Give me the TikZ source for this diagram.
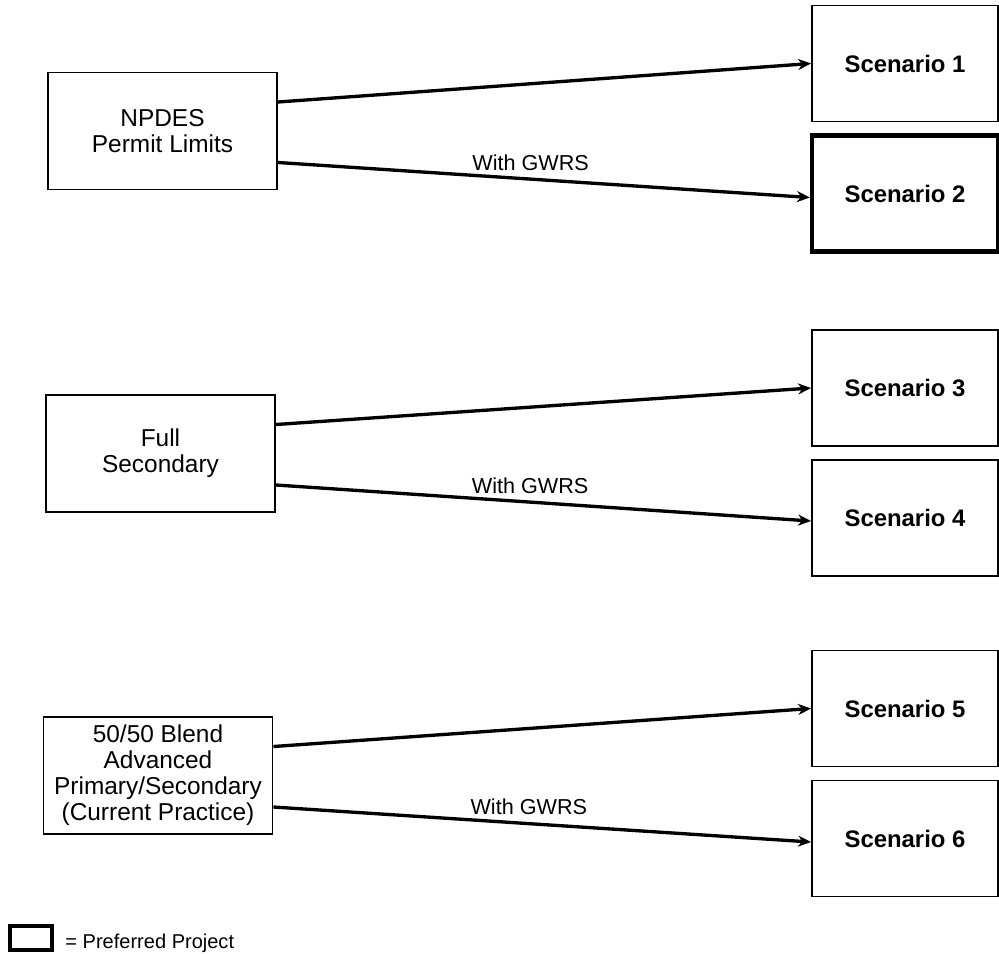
\documentclass[tikz,border=0pt]{standalone}
\usepackage{fontspec}
\setmainfont{Liberation Sans}
\usetikzlibrary{arrows.meta}

\begin{document}
\begin{tikzpicture}[x=0.02cm,y=-0.02cm,>={Stealth[length=2.6mm,width=2.2mm]},
  srcbox/.style={draw,line width=1.1pt,minimum width=4.58cm,minimum height=2.34cm,
    inner sep=0pt,align=center,font=\fontsize{13.9}{14.8}\selectfont},
  scenbox/.style={draw,line width=1.1pt,minimum width=3.72cm,minimum height=2.32cm,
    inner sep=0pt,font=\fontsize{13.6}{15}\selectfont\bfseries},
  preferred/.style={line width=2.4pt},
  flow/.style={->,line width=1.9pt},
  gwrs/.style={above=1.4mm,inner sep=0pt,font=\fontsize{12.3}{14}\selectfont}]
\useasboundingbox (0,0) rectangle (999,953);
% treatment levels
\node[srcbox] (npdes) at (162.5,131) {NPDES\\Permit Limits};
\node[srcbox] (fullsec) at (160.5,453.5) {Full\\Secondary};
\node[srcbox] (blend) at (158,775.5) {50/50 Blend\\Advanced\\Primary/Secondary\\(Current Practice)};
% scenarios
\node[scenbox] (scen1) at (905,63.5) {Scenario 1};
\node[scenbox,preferred] (scen2) at (905,193.5) {Scenario 2};
\node[scenbox] (scen3) at (905,388) {Scenario 3};
\node[scenbox] (scen4) at (905,518) {Scenario 4};
\node[scenbox] (scen5) at (905,708.5) {Scenario 5};
\node[scenbox] (scen6) at (905,838.5) {Scenario 6};
% arrows
\draw[flow] ([yshift=0.58cm]npdes.east) -- (scen1.west);
\draw[flow] ([yshift=-0.63cm]npdes.east) -- node[gwrs,pos=0.475]{With GWRS} ([yshift=-0.08cm]scen2.west);
\draw[flow] ([yshift=0.58cm]fullsec.east) -- (scen3.west);
\draw[flow] ([yshift=-0.63cm]fullsec.east) -- node[gwrs,pos=0.475]{With GWRS} ([yshift=-0.06cm]scen4.west);
\draw[flow] ([yshift=0.58cm]blend.east) -- (scen5.west);
\draw[flow] ([yshift=-0.63cm]blend.east) -- node[gwrs,pos=0.475]{With GWRS} ([yshift=-0.07cm]scen6.west);
% key
\node[draw,preferred,minimum width=0.84cm,minimum height=0.48cm,inner sep=0pt] (key) at (31,938) {};
\node[anchor=west,inner sep=0pt,font=\fontsize{11.4}{13}\selectfont] (keytext)
  at ([xshift=0.22cm,yshift=-0.1cm]key.east) {= Preferred Project};
\end{tikzpicture}
\end{document}
